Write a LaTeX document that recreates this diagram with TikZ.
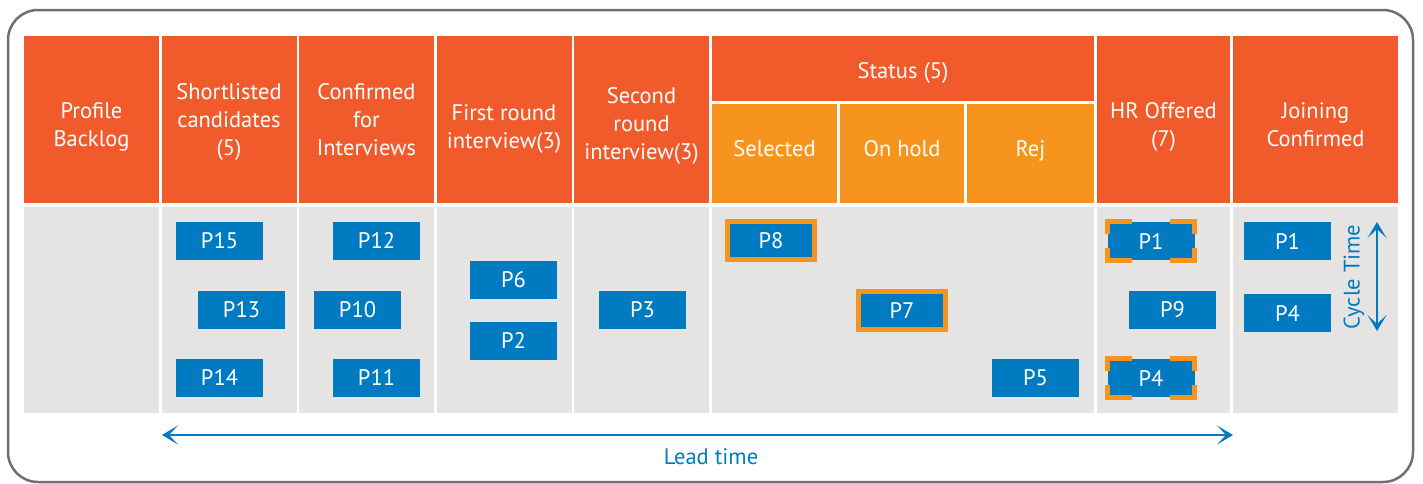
\documentclass[tikz,border=0pt]{standalone}
\usepackage{fontspec}
\setmainfont{PT Sans}
\usetikzlibrary{arrows.meta,calc}
\definecolor{headred}{RGB}{241,91,43}
\definecolor{suborange}{RGB}{247,148,30}
\definecolor{cardblue}{RGB}{0,123,193}
\definecolor{bodygray}{RGB}{229,228,226}
\definecolor{framegray}{RGB}{110,111,113}
\begin{document}
\begin{tikzpicture}[x=1pt, y=-1pt, font=\fontsize{22.5}{28}\selectfont, line join=miter,
	head/.style={fill=headred, inner sep=0pt, minimum height=167pt},
	sub/.style={fill=suborange, inner sep=0pt, minimum height=99pt},
	lane/.style={fill=bodygray, inner sep=0pt, minimum height=206pt},
	htext/.style={text=white, align=center, inner sep=0pt, execute at begin node=\strut, execute at end node=\strut},
	card/.style={fill=cardblue, text=white, inner sep=0pt, minimum width=87pt, minimum height=38pt},
	picked/.style={card, draw=suborange, line width=5pt},
	timeline/.style={draw=cardblue, line width=2.5pt, {Stealth[length=16pt,width=19pt,inset=9pt]}-{Stealth[length=16pt,width=19pt,inset=9pt]}}]
	\useasboundingbox (0,0) rectangle (1423,483);
	\draw[framegray, line width=2.5pt, rounded corners=30pt] (8,10) rectangle (1413,482);
	% header cells
	\node[head, minimum width=135pt] (backlog) at (91.5,119.5) {};
	\node[head, minimum width=135pt] (short) at (229,119.5) {};
	\node[head, minimum width=135pt] (confirm) at (366.5,119.5) {};
	\node[head, minimum width=135pt] (first) at (504,119.5) {};
	\node[head, minimum width=135pt] (second) at (641.5,119.5) {};
	\node[head, minimum width=382pt, minimum height=65pt] (status) at (903,68.5) {};
	\node[sub, minimum width=125pt] (selected) at (774.5,153.5) {};
	\node[sub, minimum width=124pt] (hold) at (902,153.5) {};
	\node[sub, minimum width=127pt] (rej) at (1030.5,153.5) {};
	\node[head, minimum width=133pt] (hr) at (1163.5,119.5) {};
	\node[head, minimum width=165pt] (join) at (1315.5,119.5) {};
	% header texts
	\node[htext] (backlog-t) at (backlog.center |- 0,129) {Profile\\Backlog};
	\node[htext] (short-t) at (short.center |- 0,124) {Shortlisted\\candidates\\(5)};
	\node[htext] (confirm-t) at (confirm.center |- 0,124) {Confirmed\\for\\Interviews};
	\node[htext] (first-t) at (first.center |- 0,131) {First round\\interview(3)};
	\node[htext] (second-t) at (second.center |- 0,128) {Second\\round\\interview(3)};
	\node[htext] (status-t) at (status.center |- 0,73) {Status (5)};
	\node[htext] (selected-t) at (selected.center |- 0,151) {Selected};
	\node[htext] (hold-t) at (hold.center |- 0,151) {On hold};
	\node[htext] (rej-t) at (rej.center |- 0,151) {Rej};
	\node[htext] (hr-t) at (hr.center |- 0,129) {HR Offered\\(7)};
	\node[htext] (join-t) at (join.center |- 0,129) {Joining\\Confirmed};
	% body lanes
	\foreach \cx/\w/\nm in {91.5/135/l1, 229/135/l2, 366.5/135/l3, 504/135/l4, 641.5/135/l5, 903/382/l6, 1163.5/133/l7, 1315.5/165/l8}
		\node[lane, minimum width=\w pt] (\nm) at (\cx,310) {};
	% cards
	\node[card] (p15) at (219.5,240.5) {P15};
	\node[card] (p13) at (241.5,309.5) {P13};
	\node[card] (p14) at (219.5,377.5) {P14};
	\node[card] (p12) at (376.5,240.5) {P12};
	\node[card] (p10) at (357.5,309.5) {P10};
	\node[card] (p11) at (376.5,377.5) {P11};
	\node[card] (p6) at (513.5,279.5) {P6};
	\node[card] (p2) at (513.5,340.5) {P2};
	\node[card] (p3) at (642.5,309.5) {P3};
	\node[picked] (p8) at (771,240.5) {P8};
	\node[picked] (p7) at (902,310.5) {P7};
	\node[card] (p5) at (1035.5,378) {P5};
	\node[card] (hrp1) at (1151,241) {P1};
	\node[card] (p9) at (1172.5,310) {P9};
	\node[card] (hrp4) at (1151,378) {P4};
	\node[card] (jp1) at (1287.5,241) {P1};
	\node[card] (jp4) at (1287.5,313) {P4};
	% corner marks on offered cards
	\foreach \c in {hrp1, hrp4} {
		\draw[suborange, line width=5pt] ($(\c.north west)+(0,12)$) -- (\c.north west) -- ++(25,0);
		\draw[suborange, line width=5pt] ($(\c.north east)+(0,12)$) -- (\c.north east) -- ++(-25,0);
		\draw[suborange, line width=5pt] ($(\c.south west)+(0,-12)$) -- (\c.south west) -- ++(25,0);
		\draw[suborange, line width=5pt] ($(\c.south east)+(0,-12)$) -- (\c.south east) -- ++(-25,0);
	}
	% cycle and lead time
	\coordinate (ctop) at (1377,222);
	\coordinate (cbot) at (1377,331);
	\draw[timeline] (ctop) -- (cbot);
	\node[text=cardblue, rotate=90] (cycle) at (1354,277) {Cycle Time};
	\coordinate (lstart) at (162,435);
	\coordinate (lend) at (1233,435);
	\draw[timeline] (lstart) -- (lend);
	\node[text=cardblue] (lead) at (711,457) {Lead time};
\end{tikzpicture}
\end{document}
